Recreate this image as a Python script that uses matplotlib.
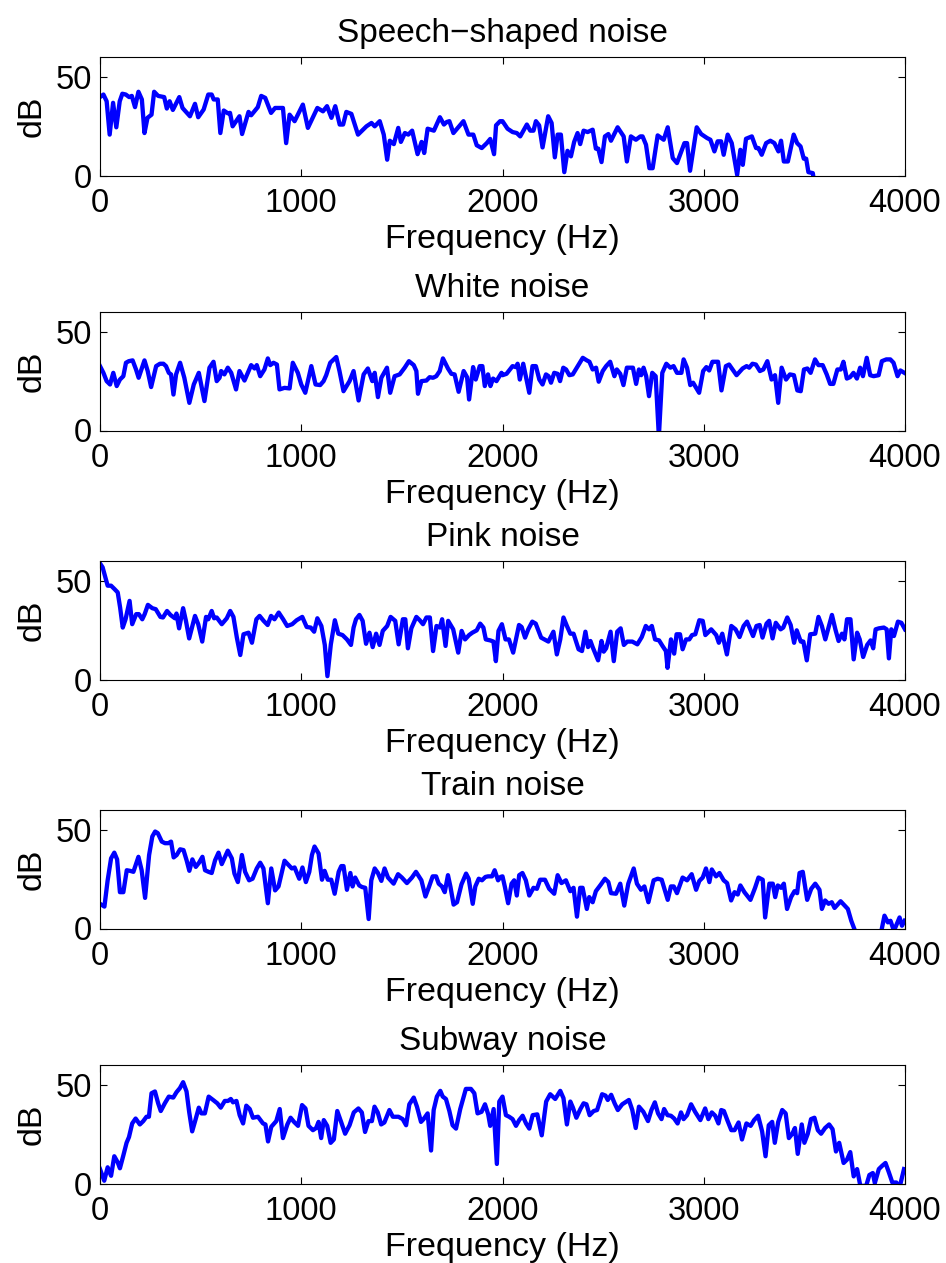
import matplotlib
matplotlib.use("Agg")
import matplotlib.pyplot as plt
import numpy as np

plt.rcParams["font.family"] = ["Liberation Sans", "DejaVu Sans"]
plt.rcParams["font.size"] = 24

# ---------------------------------------------------------------------------
# Spectra (frequency in Hz, level in dB)
# ---------------------------------------------------------------------------

SPEECH_HZ = [
    0, 17, 33, 48, 65, 81, 98, 111, 128, 145,
    158, 174, 191, 208, 221, 236, 256, 269, 289, 319,
    332, 346, 362, 394, 410, 447, 472, 488, 515, 538,
    555, 565, 585, 598, 615, 635, 646, 659, 693, 706,
    738, 751, 784, 801, 821, 850, 870, 909, 925, 942,
    967, 1008, 1033, 1080, 1108, 1128, 1150, 1169, 1191, 1208,
    1224, 1249, 1282, 1307, 1324, 1349, 1365, 1390, 1410, 1427,
    1440, 1460, 1482, 1495, 1515, 1532, 1551, 1578, 1598, 1611,
    1628, 1659, 1689, 1709, 1723, 1736, 1756, 1806, 1831, 1855,
    1872, 1897, 1922, 1939, 1958, 1968, 1988,
    2000, 2025, 2050, 2071, 2088, 2121, 2138, 2154, 2166, 2182,
    2199, 2227, 2244, 2260, 2274, 2290, 2307, 2323, 2340, 2356,
    2373, 2386, 2403, 2423, 2448, 2464, 2476, 2492, 2509, 2526,
    2539, 2572, 2602, 2618, 2638, 2663, 2685, 2696, 2713, 2730,
    2746, 2771, 2801, 2821, 2846, 2867, 2904, 2917, 2932, 2965,
    2987, 3016, 3033, 3053, 3069, 3086, 3099, 3119, 3139, 3166,
    3182, 3194, 3210, 3239, 3260, 3272, 3288, 3310, 3331, 3351,
    3371, 3384, 3398, 3418, 3447, 3464, 3481, 3497, 3509, 3520,
    3542, 3560, 3600, 4000,
]
SPEECH_DB = [
    39.7, 41, 37.6, 20.7, 36.8, 24.4, 37.6, 41.4, 41, 39.7,
    40.3, 34.6, 42.4, 38.5, 21.5, 29.2, 30.8, 42.4, 40.3, 39.7,
    33.9, 37.6, 33.2, 39.7, 34.2, 30, 36.3, 29.5, 33.4, 41,
    41, 38.5, 38.5, 21.5, 32.9, 31.5, 31.7, 24.9, 30, 21,
    32.2, 30.5, 34.6, 40.3, 39.3, 31.7, 34.2, 34.2, 16.4, 30.8,
    27.5, 35.9, 24.1, 34.2, 32.5, 35.1, 29.2, 35.1, 25.8, 25.8,
    32.2, 31.2, 20.7, 23.2, 24.9, 26.6, 24.9, 27.5, 20.7, 8,
    17.6, 15.9, 24.1, 17, 21.5, 20.7, 22.7, 10.8, 17, 11.4,
    23.7, 22.7, 29.5, 25.8, 27.1, 27.5, 21.5, 27.5, 20.7, 20.7,
    15.3, 13.9, 16.4, 18.5, 10.8, 25.4, 27.5,
    27.5, 23.7, 22, 21.5, 19.8, 25.8, 22.7, 22.7, 27.5, 25.4,
    14.2, 30, 26.6, 9.2, 20.7, 20.7, 1.7, 12.5, 9.7, 17,
    21.5, 15.9, 22.7, 22, 23.2, 13.6, 13.6, 6.8, 19.8, 21,
    17.6, 24.4, 19.8, 7.1, 19.8, 18.1, 19.8, 19.8, 15.6, 3.7,
    3.7, 20.3, 18.1, 24.4, 8.8, 6.3, 16.4, 16.4, 2.4, 24.4,
    21, 19, 18.1, 12.2, 17.3, 17.3, 10.5, 20.7, 16.4, 0.3,
    13, 5.4, 18.6, 19.8, 13.9, 13.9, 10.5, 16.4, 17.6, 16.4,
    12.2, 17.6, 7.1, 7.1, 20.7, 16.4, 14.7, 8.5, 8.5, 1.7,
    1.2, -12, -18, -25,
]

WHITE_HZ = [
    0, 17, 33, 50, 66, 83, 99, 116, 129, 143,
    162, 179, 192, 221, 237, 254, 279, 298, 315, 328,
    342, 353, 365, 378, 398, 419, 444, 466, 491, 519,
    544, 564, 580, 594, 602, 618, 635, 652, 676, 693,
    718, 751, 768, 779, 796, 817, 834, 846, 862, 879,
    892, 917, 942, 958, 983, 1000, 1020, 1050, 1071, 1094,
    1111, 1124, 1144, 1174, 1190, 1210, 1240, 1260, 1285, 1310,
    1331, 1353, 1365, 1381, 1398, 1426, 1442, 1464, 1489, 1514,
    1535, 1559, 1572, 1580, 1597, 1622, 1638, 1655, 1671, 1688,
    1704, 1729, 1746, 1762, 1782, 1807, 1824, 1834, 1854, 1867,
    1887, 1900, 1912, 1928, 1940, 1953, 1970, 1995,
    2000, 2020, 2037, 2050, 2066, 2075, 2086, 2103, 2116, 2133,
    2149, 2166, 2183, 2199, 2216, 2229, 2241, 2257, 2274, 2286,
    2302, 2316, 2332, 2349, 2369, 2399, 2419, 2432, 2448, 2465,
    2478, 2498, 2515, 2535, 2556, 2568, 2585, 2601, 2618, 2648,
    2664, 2678, 2689, 2701, 2714, 2728, 2744, 2761, 2777, 2794,
    2814, 2834, 2850, 2867, 2889, 2900, 2917, 2933, 2947, 2977,
    2997, 3013, 3027, 3043, 3071, 3088, 3110, 3126, 3163, 3193,
    3213, 3226, 3242, 3259, 3279, 3296, 3316, 3337, 3354, 3370,
    3387, 3409, 3428, 3448, 3465, 3482, 3498, 3515, 3531, 3553,
    3570, 3591, 3611, 3628, 3644, 3664, 3681, 3694, 3711, 3727,
    3744, 3761, 3777, 3791, 3810, 3827, 3844, 3869, 3885, 3907,
    3927, 3943, 3963, 3977, 3997,
]
WHITE_DB = [
    32.6, 29.2, 25, 23.3, 29.2, 22.5, 25.8, 27.5, 34.3, 35.1,
    35.5, 30.9, 26.7, 35.5, 30.1, 22, 32.6, 33.8, 33.8, 32.6,
    29.2, 28.4, 18.2, 28.4, 34.3, 26.7, 14, 23.3, 29.2, 14.9,
    31.8, 34.8, 25, 26.7, 30.1, 28.4, 31.8, 29.2, 20.8, 30.1,
    25.3, 33.1, 31.4, 33.1, 27.5, 30.9, 36.5, 33.1, 34.3, 33.4,
    20.8, 21.6, 21.3, 34.3, 29.2, 23.3, 19.1, 32.6, 23.3, 23,
    25, 28, 34.3, 37.2, 30.1, 19.9, 25, 30.1, 15.2, 28.4,
    31.4, 25, 29.2, 16.9, 26.7, 31.8, 19.1, 27.5, 28.4, 31.8,
    35.1, 33.1, 30.1, 18.6, 25, 25.3, 27, 26.7, 27.5, 30.1,
    36.5, 31.4, 28.7, 28.4, 19.6, 30.1, 27, 15.7, 32.1, 25.8,
    32.6, 32.6, 22.5, 28.4, 22.5, 26.3, 25, 29.2,
    28, 28.7, 30.9, 32.6, 32.1, 33.8, 25.8, 33.8, 27.5, 19.1,
    32.6, 32.6, 25.8, 23.3, 28.4, 27.5, 24.2, 29.2, 28.7, 25,
    31.8, 30.9, 28, 28.4, 31.8, 36.8, 35.5, 34.8, 30.9, 31.8,
    24.7, 30.1, 32.6, 34.8, 27.5, 30.9, 28.7, 23, 31.8, 31.8,
    23.6, 30.9, 28, 31.8, 27.5, 17.4, 29.2, 27.5, -3, 29.2,
    33.8, 31.8, 32.6, 29.2, 29.2, 36, 31.8, 23, 24.2, 19.1,
    30.1, 32.1, 30.4, 34.8, 34.8, 20.3, 32.6, 33.4, 28, 31.4,
    32.6, 31.8, 33.8, 33.4, 30.1, 30.9, 35.1, 25.8, 28, 14,
    31.8, 25.8, 28.4, 28, 20.3, 19.9, 30.9, 31.4, 29.2, 36,
    33.1, 33.1, 28.4, 23.6, 23.6, 30.9, 30.9, 34.8, 26.3, 27,
    29.2, 26.3, 31.8, 27.5, 36.8, 28, 27.5, 28, 35.1, 36,
    36, 34.3, 27.5, 30.4, 29.2,
]

PINK_HZ = [
    0, 13, 27, 38, 55, 72, 88, 100, 113, 127,
    147, 160, 180, 193, 210, 222, 238, 260, 277, 300,
    313, 333, 350, 372, 380, 393, 413, 427, 443, 472,
    488, 508, 527, 538, 555, 567, 580, 605, 630, 647,
    663, 680, 697, 713, 738, 755, 777, 793, 813, 833,
    850, 867, 888, 910, 930, 955, 977, 1005, 1027, 1047,
    1064, 1080, 1100, 1117, 1130, 1147, 1167, 1184, 1205, 1227,
    1247, 1260, 1272, 1289, 1305, 1322, 1339, 1355, 1372, 1389,
    1405, 1427, 1444, 1467, 1484, 1505, 1517, 1530, 1547, 1572,
    1589, 1605, 1622, 1639, 1655, 1672, 1689, 1700, 1717, 1730,
    1755, 1780, 1797, 1814, 1834, 1850, 1872, 1889, 1905, 1917,
    1939, 1955, 1967, 1980, 1997,
    2015, 2032, 2053, 2082, 2095, 2112, 2128, 2148, 2165, 2192,
    2208, 2228, 2253, 2270, 2287, 2303, 2320, 2337, 2353, 2378,
    2395, 2412, 2425, 2437, 2448, 2475, 2492, 2503, 2515, 2537,
    2553, 2570, 2587, 2603, 2620, 2645, 2670, 2692, 2712, 2728,
    2742, 2758, 2778, 2795, 2812, 2820, 2837, 2853, 2865, 2882,
    2895, 2912, 2928, 2942, 2958, 2978, 2995, 3008, 3037, 3062,
    3075, 3092, 3115, 3137, 3158, 3178, 3198, 3215, 3245, 3262,
    3278, 3292, 3312, 3325, 3342, 3358, 3382, 3395, 3415, 3432,
    3449, 3462, 3482, 3495, 3512, 3529, 3554, 3570, 3587, 3604,
    3620, 3637, 3654, 3670, 3687, 3699, 3712, 3729, 3745, 3762,
    3775, 3792, 3812, 3829, 3842, 3854, 3870, 3895, 3909, 3920,
    3932, 3945, 3965, 3982, 4000,
]
PINK_DB = [
    58.8, 56.8, 51.7, 47.5, 47.5, 45.8, 44.1, 36.4, 26.3, 30.5,
    39.8, 28, 33.1, 33.1, 30.5, 33.1, 37.8, 36.1, 35.6, 31.7,
    31.4, 34.7, 32.7, 31, 33.4, 25.9, 36.1, 29.7, 20.8, 32.2,
    28, 19.2, 31.7, 30.5, 34.7, 31, 31.4, 28, 31, 34.7,
    31.7, 21.2, 12.4, 22.9, 23.7, 18.6, 30.5, 32.2, 29.7, 27.6,
    32.2, 30.5, 33.9, 30.5, 27.1, 28, 30, 31.7, 26.6, 26.3,
    24.2, 31, 27.1, 17.5, 1.7, 17.8, 30, 23.2, 22.5, 20.3,
    17.5, 26.3, 30.5, 32.7, 29.7, 18.1, 23.7, 16.4, 23.2, 17.5,
    24.6, 27.1, 31.7, 29.7, 17.8, 30.5, 30.5, 15.8, 25.9, 31.7,
    30, 28, 31.4, 31.4, 14.4, 27.1, 26.3, 30.5, 17, 29.7,
    25.4, 13.6, 24.6, 20.3, 22.5, 23.7, 24.9, 28.3, 26.3, 20.3,
    19.8, 19.2, 9.3, 24.6, 28,
    20.3, 20.3, 13.6, 27.6, 26.6, 21.2, 25.4, 29.3, 28.3, 21.2,
    20.3, 19.2, 24.2, 12.7, 20.3, 31.4, 27.1, 23.2, 23.2, 15.3,
    14.4, 24.2, 16.4, 19.5, 16.4, 9.7, 19.5, 14.1, 15.8, 24.2,
    9.3, 24.2, 25.9, 17.5, 19.2, 19.2, 17.8, 21.5, 27.1, 25.4,
    27.1, 20.3, 19.8, 17, 14.4, 5.9, 20.3, 13.1, 22.9, 22.9,
    15.3, 20.3, 20.3, 22.5, 22.9, 30, 29.7, 22.5, 25.4, 22.5,
    18.6, 23.2, 12.7, 27.1, 25.4, 21.5, 27.1, 29.3, 22, 27.1,
    27.6, 21.2, 28.3, 29.7, 20.8, 28.7, 25.4, 26.3, 31.4, 27.6,
    18.6, 24.9, 19.2, 19.2, 9.7, 22.9, 23.2, 31.7, 27.1, 20.3,
    26.3, 32.7, 25.4, 19.5, 23.2, 20.3, 30.5, 30.5, 10.2, 23.7,
    20.3, 11.4, 17.5, 19.8, 15.8, 25.4, 25.9, 26.3, 25.4, 10.7,
    25.4, 22, 29.3, 28.7, 25.4,
]

TRAIN_HZ = [
    0, 22, 38, 55, 71, 85, 99, 116, 133, 149,
    166, 191, 207, 224, 244, 260, 274, 287, 307, 323,
    340, 353, 366, 381, 398, 415, 431, 444, 459, 476,
    492, 509, 522, 539, 555, 572, 589, 605, 635, 655,
    668, 685, 705, 721, 741, 758, 779, 796, 812, 834,
    851, 870, 887, 917, 937, 953, 967, 990, 1006, 1023,
    1040, 1053, 1066, 1086, 1103, 1116, 1132, 1149, 1166, 1186,
    1199, 1210, 1227, 1244, 1255, 1268, 1288, 1302, 1318, 1335,
    1348, 1365, 1381, 1398, 1414, 1431, 1459, 1481, 1500, 1525,
    1550, 1570, 1597, 1617, 1633, 1653, 1670, 1683, 1699, 1713,
    1729, 1741, 1757, 1774, 1796, 1819, 1832, 1852, 1865, 1882,
    1898, 1915, 1928, 1948, 1961, 1978, 1990,
    2000, 2012, 2028, 2045, 2058, 2071, 2083, 2099, 2116, 2133,
    2154, 2171, 2187, 2211, 2232, 2257, 2274, 2293, 2315, 2337,
    2353, 2370, 2386, 2398, 2419, 2431, 2448, 2464, 2489, 2509,
    2526, 2539, 2564, 2585, 2605, 2625, 2652, 2668, 2688, 2705,
    2725, 2751, 2771, 2791, 2821, 2837, 2851, 2867, 2895, 2917,
    2940, 2962, 2978, 2995, 3011, 3028, 3040, 3061, 3078, 3099,
    3116, 3136, 3153, 3169, 3182, 3202, 3232, 3255, 3272, 3293,
    3305, 3326, 3343, 3355, 3368, 3384, 3398, 3414, 3434, 3451,
    3464, 3476, 3492, 3514, 3534, 3554, 3575, 3587, 3603, 3620,
    3636, 3650, 3680, 3716, 3733, 3753, 3800, 3850, 3882, 3898,
    3915, 3928, 3945, 3973, 3985, 3998,
]
TRAIN_DB = [
    12.5, 11.1, 24.4, 35.5, 38.4, 35, 18.4, 18.4, 29.5, 29.2,
    28.7, 36.3, 29.5, 15.5, 37.2, 46.6, 49.1, 48.3, 44, 43.2,
    43.2, 44, 36, 37.2, 40.1, 39.7, 34.3, 29.2, 35, 31.2,
    33.3, 36.3, 29.5, 28.7, 28.1, 34.6, 38.4, 32.6, 39.4, 35.5,
    27.8, 23.5, 37.2, 28.7, 24.4, 25.2, 30.4, 33.3, 30.4, 12.8,
    30.4, 19.3, 21.3, 34.3, 32.1, 30.4, 30.9, 25.2, 30.9, 23.5,
    28.7, 37.2, 41.5, 38, 24.7, 29.2, 24.7, 24.7, 17.6, 28.7,
    31.6, 31.6, 19.6, 28.1, 21.3, 25.8, 21.8, 21, 20.6, 4.8,
    24.4, 30.4, 28.1, 24.1, 30.4, 25.8, 22.7, 27.5, 25.8, 23,
    25.8, 28.7, 24.4, 16.2, 20.6, 26.4, 26.4, 22.7, 21.3, 18.4,
    27, 21.3, 12.1, 13.3, 22.3, 27.8, 25.2, 12.5, 21.3, 25.2,
    24.4, 26.1, 26.4, 26.4, 29.5, 24.4, 26.1,
    26.4, 21, 12.8, 22.7, 24.4, 16.7, 27, 28.1, 24.4, 16.7,
    20.6, 20.1, 24.7, 24.7, 20.1, 17.6, 27, 23, 24.4, 18.9,
    20.6, 6, 20.6, 20.6, 9.9, 15.9, 13.3, 18.9, 22.3, 25.2,
    23.5, 17.9, 17.6, 22.7, 11.6, 22.7, 30.4, 22.7, 19.6, 21.3,
    13.3, 24.4, 25.2, 24.7, 14.5, 21.3, 21.3, 17.9, 25.8, 24.4,
    27.5, 19.6, 24.1, 25.8, 30.4, 23.5, 29.9, 26.4, 28.1, 24.4,
    23, 14.2, 18.4, 17.2, 21.8, 18.4, 14.5, 20.6, 25.8, 24.7,
    5.6, 22.7, 22.7, 15.9, 21.8, 20.6, 22.7, 9.9, 15.9, 18.9,
    17.9, 28.1, 28.7, 14.5, 20.1, 22.7, 19.6, 9.9, 14.2, 12.5,
    13.3, 10.4, 13.8, 9.9, 3.9, -1.5, -10, -8, -1.5, 6.5,
    3.1, 3.9, -1.2, 5.6, 1.4, 3.9,
]

SUBWAY_HZ = [
    0, 21, 38, 55, 71, 88, 99, 116, 132, 144,
    160, 177, 198, 215, 231, 243, 256, 273, 289, 302,
    322, 342, 364, 380, 397, 413, 430, 443, 458, 474,
    491, 504, 521, 540, 562, 583, 600, 620, 636, 650,
    661, 678, 694, 711, 727, 744, 760, 785, 810, 822,
    835, 851, 876, 893, 909, 931, 947, 964, 984, 1004,
    1021, 1036, 1058, 1074, 1086, 1099, 1112, 1129, 1146, 1162,
    1179, 1198, 1218, 1240, 1261, 1284, 1301, 1317, 1334, 1351,
    1364, 1380, 1397, 1413, 1438, 1455, 1483, 1504, 1521, 1537,
    1559, 1575, 1595, 1608, 1628, 1645, 1658, 1674, 1691, 1703,
    1719, 1736, 1752, 1769, 1790, 1818, 1843, 1860, 1876, 1896,
    1913, 1929, 1939, 1956, 1972, 1984,
    2000, 2017, 2033, 2050, 2067, 2083, 2100, 2117, 2133, 2150,
    2173, 2195, 2217, 2237, 2262, 2287, 2303, 2320, 2337, 2350,
    2367, 2387, 2403, 2417, 2433, 2453, 2470, 2495, 2512, 2523,
    2540, 2557, 2573, 2595, 2628, 2645, 2662, 2678, 2700, 2723,
    2740, 2757, 2773, 2790, 2803, 2820, 2837, 2853, 2870, 2887,
    2900, 2917, 2937, 2957, 2983, 3007, 3023, 3040, 3057, 3073,
    3087, 3100, 3117, 3137, 3153, 3173, 3190, 3212, 3233, 3250,
    3270, 3290, 3307, 3323, 3340, 3353, 3370, 3390, 3407, 3423,
    3440, 3453, 3467, 3487, 3500, 3517, 3533, 3550, 3567, 3583,
    3603, 3623, 3640, 3657, 3673, 3695, 3712, 3728, 3745, 3762,
    3778, 3807, 3823, 3840, 3850, 3870, 3887, 3903, 3920, 3937,
    3957, 3973, 3995,
]
SUBWAY_DB = [
    7.3, 1.4, 8.2, 3.9, 13.8, 10.7, 7.7, 14.2, 20.6, 23.5,
    30.4, 32.9, 29.9, 31.6, 33.8, 33.8, 45.7, 46.6, 40.6, 36.7,
    40.6, 44, 43.5, 46.2, 48.3, 51.3, 46.6, 36.3, 26.4, 32.1,
    38.4, 35.5, 35.5, 44, 42.3, 40.6, 38.4, 41.8, 41.8, 42.8,
    41.1, 41.8, 34.6, 30.4, 39.4, 37.7, 33.3, 33.8, 30.4, 29.9,
    21.3, 28.7, 31.6, 37.7, 23, 29.9, 33.3, 31.2, 29.2, 39.7,
    38, 29.2, 27, 28.1, 31.2, 23, 32.1, 29.2, 20.6, 22.3,
    36.7, 31.2, 25.2, 29.5, 36, 38, 36, 26.1, 31.6, 31.6,
    38.9, 36, 29.9, 30.9, 37.2, 33.8, 33.8, 32.6, 29.5, 40.1,
    43.5, 38.9, 31.2, 32.6, 35.5, 16.7, 37.2, 44, 46.9, 44,
    42.8, 36.7, 29.5, 27.8, 37.7, 47.9, 47.9, 45.7, 35.5, 36.3,
    40.1, 35, 29.2, 37.7, 9.9, 41.5,
    44, 34.6, 33.8, 32.6, 29.2, 32.1, 34.3, 30.4, 27.8, 34.6,
    35, 24.4, 41.5, 45.2, 42.8, 46.9, 43.2, 29.9, 41.5, 38.4,
    33.3, 37.7, 40.6, 40.1, 34.6, 36.7, 37.2, 45.2, 44.5, 42.3,
    44.9, 40.6, 37.2, 40.1, 42.3, 37.2, 28.1, 38.9, 36.3, 31.6,
    37.2, 41.1, 35.5, 32.6, 37.7, 34.6, 34.3, 32.9, 30.4, 36,
    32.6, 34.6, 40.1, 36.3, 32.1, 38, 32.6, 36, 34.3, 30.4,
    37.2, 36.7, 32.1, 27, 27, 30.9, 22.3, 30.4, 29.2, 32.1,
    34.3, 26.4, 13.8, 29.5, 31.2, 20.6, 31.2, 37.2, 35.5, 23,
    25.2, 28.1, 15, 29.9, 20.6, 25.2, 32.6, 33.3, 27, 25.2,
    28.1, 29.9, 27.5, 16.2, 20.6, 10.4, 12.1, 15.9, 3.6, 7.3,
    -1.2, -1.2, 4.3, 5.3, 0.2, 7.3, 9, 10.4, 5.6, 0.5,
    0.5, -2, 7.3,
]

TITLES = ["Speech\u2212shaped noise", "White noise", "Pink noise",
          "Train noise", "Subway noise"]
SERIES = [(SPEECH_HZ, SPEECH_DB), (WHITE_HZ, WHITE_DB), (PINK_HZ, PINK_DB),
          (TRAIN_HZ, TRAIN_DB), (SUBWAY_HZ, SUBWAY_DB)]

X_TICKS = [0, 1000, 2000, 3000, 4000]
Y_TICKS = [0, 50]

# ---------------------------------------------------------------------------
# Layout (pixels)
# ---------------------------------------------------------------------------

W, H = 946, 1263
AX_LEFT, AX_W, AX_H = 100, 805, 118.5
AX_TOPS = [57, 312, 561, 810, 1065]

fig = plt.figure(figsize=(W / 100, H / 100), dpi=100)

for top, title, (hz, db) in zip(AX_TOPS, TITLES, SERIES):
    ax = fig.add_axes([AX_LEFT / W, 1 - (top + AX_H) / H, AX_W / W, AX_H / H])
    ax.plot(np.array(hz), np.array(db), color=(0, 0, 1), linewidth=3.1)
    ax.set_xlim(0, 4000)
    ax.set_ylim(0, 60)
    ax.set_xticks(X_TICKS)
    ax.set_yticks(Y_TICKS)
    ax.tick_params(direction="in", top=True, right=True, length=5,
                   width=0.8, labelsize=23.5)
    ax.tick_params(axis="x", pad=9)
    ax.tick_params(axis="y", pad=5.5)
    for sp in ax.spines.values():
        sp.set_linewidth(0.8)
    ax.set_title(title, fontsize=24, pad=10.5)
    ax.set_xlabel("Frequency (Hz)", fontsize=24.5, labelpad=3.5)
    ax.set_ylabel("dB", fontsize=24.5, labelpad=6)

fig.savefig("out.png", dpi=100)
